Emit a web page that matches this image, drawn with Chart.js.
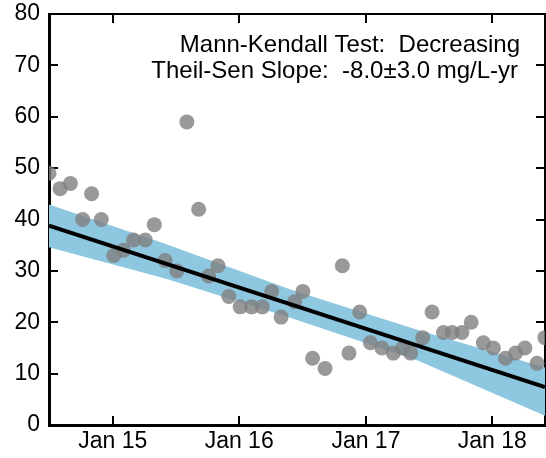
<!DOCTYPE html>
<html>
<head>
<meta charset="utf-8">
<script src="https://cdn.jsdelivr.net/npm/chart.js@4.4.1/dist/chart.umd.min.js"></script>
<style>
  html, body { margin: 0; padding: 0; background: #fff; }
  #wrap { width: 546px; height: 458px; }
</style>
</head>
<body>
<div id="wrap"><canvas id="trend-chart" width="546" height="458"></canvas></div>
<script>
// sample dates and measured concentrations (mg/L)
const sampleDates = [
    '2014-07-01', '2014-08-02', '2014-09-01', '2014-10-06', '2014-11-01', '2014-11-29',
    '2015-01-04', '2015-02-01', '2015-03-02', '2015-04-05', '2015-05-01', '2015-06-01',
    '2015-07-05', '2015-08-03', '2015-09-06', '2015-10-05', '2015-11-01', '2015-12-02',
    '2016-01-04', '2016-02-06', '2016-03-08', '2016-04-04', '2016-05-01', '2016-06-09',
    '2016-07-03', '2016-07-31', '2016-09-05', '2016-10-25', '2016-11-13', '2016-12-14',
    '2017-01-14', '2017-02-16', '2017-03-21', '2017-04-17', '2017-05-10', '2017-06-14',
    '2017-07-11', '2017-08-13', '2017-09-07', '2017-10-05', '2017-11-01', '2017-12-06',
    '2018-01-04', '2018-02-08', '2018-03-09', '2018-04-05', '2018-05-10', '2018-06-02'
];
const concentration = [
    49, 46, 47, 40, 45, 40,
    33, 34, 36, 36, 39, 32,
    30, 59, 42, 29, 31, 25,
    23, 23, 23, 26, 21, 24,
    26, 13, 11, 31, 14, 22,
    16, 15, 14, 15, 14, 17,
    22, 18, 18, 18, 20, 16,
    15, 13, 14, 15, 12, 17
];

// Theil-Sen line and its confidence band
const trendDates = ['2014-07-01', '2018-06-02'];
const trendValues = [38.8, 7.4];
const bandDates = ['2014-07-01', '2015-06-01', '2016-06-01', '2017-06-01', '2018-06-02'];
const bandUpper = [42.9, 35.3, 26.3, 18.5, 11.2];
const bandLower = [34.6, 28.5, 20.8, 12.5, 1.8];

const tickDates = ['2015-01-01', '2016-01-01', '2017-01-01', '2018-01-01'];
const yTicks = [0, 10, 20, 30, 40, 50, 60, 70, 80];
const noteLines = ['Mann-Kendall Test:  Decreasing', 'Theil-Sen Slope:  -8.0\u00b13.0 mg/L-yr'];

const MONTHS = ['Jan', 'Feb', 'Mar', 'Apr', 'May', 'Jun', 'Jul', 'Aug', 'Sep', 'Oct', 'Nov', 'Dec'];
const FONT = '"Liberation Sans", Arial, Helvetica, sans-serif';

const ms = s => Date.parse(s + 'T00:00:00Z');
const pairs = (dates, vals) => dates.map((d, i) => ({ x: ms(d), y: vals[i] }));

const xMin = ms(sampleDates[0]);
const xMax = ms(sampleDates[sampleDates.length - 1]);

const fixXTicks = scale => { scale.ticks = tickDates.map(d => ({ value: ms(d) })); };
const fixYTicks = scale => { scale.ticks = yTicks.map(v => ({ value: v })); };
const fmtDate = v => {
    const d = new Date(v);
    return MONTHS[d.getUTCMonth()] + ' ' + String(d.getUTCFullYear()).slice(2);
};

// force the box size and drop the label overhang padding
const fitBox = (w, h) => s => {
    if (w !== null) s.width = w;
    if (h !== null) s.height = h;
    s.paddingTop = 0;
    s.paddingBottom = 0;
    s.paddingLeft = 0;
    s.paddingRight = 0;
};

const tickGrid = { drawOnChartArea: false, drawTicks: true, tickLength: -9, color: '#000', lineWidth: 2 };
const axisBorder = w => ({ display: true, color: '#000', width: w });

const statsNote = {
    id: 'statsNote',
    afterDraw(chart) {
        const { ctx, chartArea } = chart;
        ctx.save();
        ctx.font = '24px ' + FONT;
        ctx.fillStyle = '#000';
        ctx.textAlign = 'right';
        ctx.textBaseline = 'alphabetic';
        ctx.fillText(noteLines[0], chartArea.right - 25, chartArea.top + 38);
        ctx.fillText(noteLines[1], chartArea.right - 27, chartArea.top + 64);
        ctx.restore();
    }
};

new Chart(document.getElementById('trend-chart'), {
    type: 'scatter',
    data: {
        datasets: [
            {
                label: 'Theil-Sen',
                data: pairs(trendDates, trendValues),
                showLine: true,
                borderColor: '#000',
                borderWidth: 4,
                pointRadius: 0,
                clip: 0
            },
            {
                label: 'Samples',
                data: pairs(sampleDates, concentration),
                backgroundColor: 'rgba(128, 128, 128, 0.8)',
                borderWidth: 0,
                pointRadius: 7.5,
                clip: 0
            },
            {
                label: 'Upper',
                data: pairs(bandDates, bandUpper),
                showLine: true,
                borderWidth: 0,
                borderColor: 'rgba(0,0,0,0)',
                backgroundColor: 'rgb(142, 200, 224)',
                pointRadius: 0,
                fill: '+1',
                clip: 0
            },
            {
                label: 'Lower',
                data: pairs(bandDates, bandLower),
                showLine: true,
                borderWidth: 0,
                borderColor: 'rgba(0,0,0,0)',
                pointRadius: 0,
                fill: false,
                clip: 0
            }
        ]
    },
    options: {
        responsive: false,
        animation: false,
        devicePixelRatio: 1,
        layout: { padding: 0, autoPadding: false },
        plugins: {
            legend: { display: false },
            tooltip: { enabled: false },
            title: { display: false }
        },
        scales: {
            x: {
                type: 'linear',
                position: 'bottom',
                min: xMin,
                max: xMax,
                afterBuildTicks: fixXTicks,
                afterFit: fitBox(null, 33),
                grid: tickGrid,
                border: axisBorder(3),
                ticks: {
                    callback: fmtDate,
                    color: '#000',
                    font: { family: FONT, size: 23 },
                    padding: 12,
                    maxRotation: 0
                }
            },
            x2: {
                type: 'linear',
                position: 'top',
                min: xMin,
                max: xMax,
                afterBuildTicks: fixXTicks,
                afterFit: fitBox(null, 14),
                grid: tickGrid,
                border: axisBorder(2),
                ticks: { display: false }
            },
            y: {
                type: 'linear',
                position: 'left',
                min: 0,
                max: 80,
                afterBuildTicks: fixYTicks,
                afterFit: fitBox(49, null),
                grid: tickGrid,
                border: axisBorder(3),
                ticks: {
                    color: '#000',
                    font: { family: FONT, size: 23 },
                    padding: 18
                }
            },
            y2: {
                type: 'linear',
                position: 'right',
                min: 0,
                max: 80,
                afterBuildTicks: fixYTicks,
                afterFit: fitBox(1, null),
                grid: tickGrid,
                border: axisBorder(2),
                ticks: { display: false }
            }
        }
    },
    plugins: [statsNote]
});
</script>
</body>
</html>
